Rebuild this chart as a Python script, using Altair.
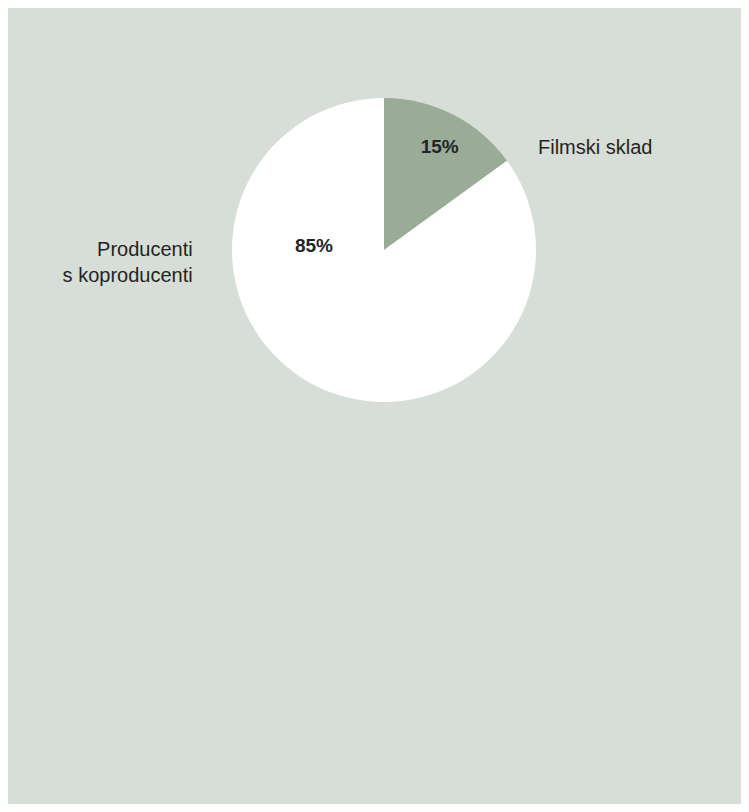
import altair as alt
import pandas as pd

categories = ["Filmski sklad", "Producenti s koproducenti"]
values = [15, 85]
pct_labels = ["15%", "85%"]
outer_labels = [["Filmski sklad"], ["Producenti", "s koproducenti"]]
colors = ["#9aab98", "#ffffff"]

df = pd.DataFrame({
    "cat": categories,
    "val": values,
    "pct": pct_labels,
    "lab": outer_labels,
    "order": [0, 1],
})

CX, CY = 376, 242
R = 152
FONT = "Liberation Sans"
TXT = "#242424"

base = alt.Chart(df).encode(
    theta=alt.Theta("val:Q", stack=True),
    order=alt.Order("order:Q"),
    x=alt.value(CX),
    y=alt.value(CY),
)

pie = base.mark_arc(outerRadius=R, stroke=None).encode(
    color=alt.Color("cat:N", scale=alt.Scale(domain=categories, range=colors), legend=None)
)


def only(i, field):
    # text shown only for row i; stacking still uses all rows
    return base.transform_calculate(
        t=f"datum.cat == '{categories[i]}' ? datum.{field} : ''"
    ).encode(text="t:N")


pct15 = only(0, "pct").mark_text(radius=116, dx=3, font=FONT, fontSize=19,
                                 fontWeight="bold", color=TXT)
pct85 = only(1, "pct").mark_text(radius=0, dx=-70, dy=-4, font=FONT, fontSize=19,
                                 fontWeight="bold", color=TXT)
lab1 = only(0, "lab").mark_text(radius=152, dx=85, dy=39, align="left", baseline="alphabetic",
                                font=FONT, fontSize=20, color=TXT)
lab2 = only(1, "lab").mark_text(radius=80, dx=-155, dy=-65, align="right", baseline="alphabetic",
                                lineHeight=26, font=FONT, fontSize=20, color=TXT)

chart = alt.layer(pie, pct15, pct85, lab1, lab2).properties(
    width=733, height=796, padding=0, background="#d6ded7",
).configure_view(stroke=None)

chart.save("out.html", embed_options={"renderer": "svg", "actions": False})
